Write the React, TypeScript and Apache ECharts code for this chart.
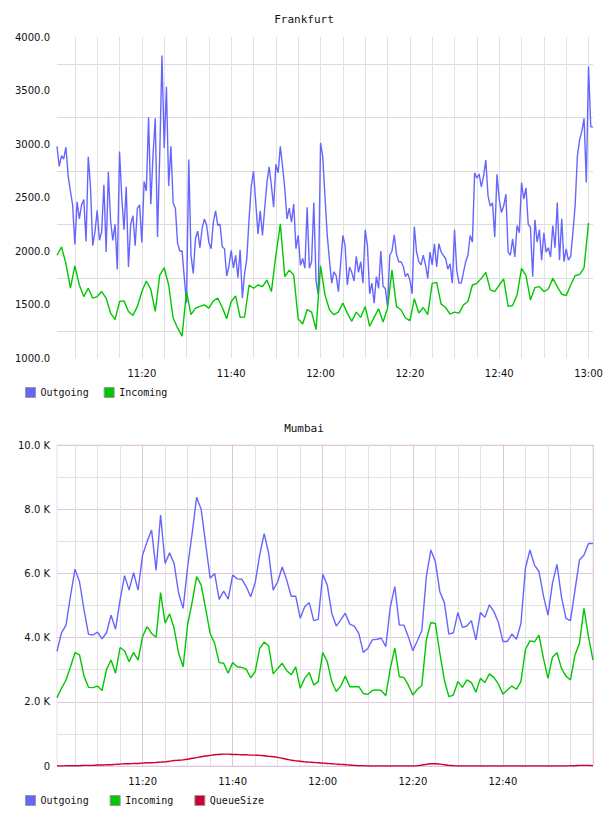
import React, { useEffect, useRef } from 'react';
import * as echarts from 'echarts';

// ---------- categories / tick labels ----------
const pad = (n: number) => String(n).padStart(2, '0');
const hhmmss = (t: number) => `${pad(Math.floor(t / 3600))}:${pad(Math.floor((t % 3600) / 60))}:${pad(t % 60)}`;
const hhmm = (t: number) => `${pad(Math.floor(t / 3600))}:${pad(Math.floor((t % 3600) / 60))}`;

// Frankfurt: 30 s samples 11:01:00 .. 13:01:00
const frankfurtTimes: string[] = [];
for (let s = 0; s <= 240; s++) frankfurtTimes.push(hhmmss(11 * 3600 + 60 + s * 30));
// Frankfurt incoming: 1 min samples 11:01 .. 13:01
const frankfurtMinutes: string[] = [];
for (let m = 0; m <= 120; m++) frankfurtMinutes.push(hhmm(11 * 3600 + 60 + m * 60));
// Mumbai: 1 min samples 11:01 .. 13:00
const mumbaiMinutes: string[] = [];
for (let m = 0; m < 120; m++) mumbaiMinutes.push(hhmm(11 * 3600 + 60 + m * 60));

const frankfurtTickLabels = ['11:20', '11:40', '12:00', '12:20', '12:40', '13:00'];
const mumbaiTickLabels = ['11:20', '11:40', '12:00', '12:20', '12:40'];

// ---------- series values ----------
const frankfurtOutgoing = [
  2978, 2790, 2890, 2860, 2970, 2700, 2560, 2430, 2060, 2460,
  2300, 2430, 2480, 2090, 2880, 2600, 2050, 2180, 2380, 2100,
  2180, 2620, 1990, 2740, 2280, 2100, 2250, 1830, 2930, 2500,
  2200, 2600, 1850, 2250, 2330, 2050, 2400, 2430, 2080, 2650,
  2560, 3250, 2438, 2900, 3241, 2130, 2900, 3827, 2963, 3534,
  2608, 2978, 2450, 2400, 2070, 2000, 2000, 1750, 1513, 2855,
  1960, 1790, 2115, 2185, 2030, 2215, 2300, 2240, 2080, 2022,
  2270, 2375, 2240, 2250, 2040, 2020, 1766, 1860, 2007, 1840,
  1960, 1750, 2010, 1560, 1790, 1930, 2300, 2608, 2747, 2450,
  2160, 2375, 2145, 2400, 2639, 2787, 2610, 2410, 2810, 2730,
  2978, 2790, 2580, 2300, 2400, 2270, 2440, 2022, 2145, 1867,
  1930, 1840, 2408, 1840, 1900, 2454, 1720, 1590, 3010, 2880,
  2500, 2150, 1914, 1700, 1806, 1770, 1620, 1880, 2145, 2050,
  1682, 1850, 1800, 1720, 1950, 1800, 1900, 1700, 2199, 2050,
  1600, 1700, 1513, 1760, 1650, 2000, 1670, 1650, 1482, 1960,
  2000, 2150, 1970, 1900, 1900, 1860, 1760, 1790, 1730, 1600,
  2229, 1990, 1900, 1870, 1960, 1870, 1744, 1990, 1870, 2068,
  1850, 2068, 1990, 1960, 1930, 1830, 1880, 1700, 2199, 1820,
  1700, 1700, 1800, 1900, 1960, 2145, 2083, 2732, 2680, 2720,
  2600, 2700, 2850, 2515, 2420, 2450, 2130, 2716, 2485, 2360,
  2420, 2531, 1990, 1960, 2114, 1944, 2238, 2170, 2640, 2485,
  2590, 2250, 2220, 1760, 2292, 2083, 2200, 1914, 2170, 1990,
  2030, 1944, 2238, 2030, 2454, 1914, 2300, 1900, 2020, 1914,
  1950, 2170, 2423, 2886, 3040, 3120, 3240, 2640, 3725, 3160,
  3160,
];

const frankfurtIncoming: (number | null)[] = [
  1960, 2037, 1883, 1652, 1861, 1682, 1574, 1652, 1559, 1574,
  1621, 1559, 1420, 1358, 1528, 1534, 1435, 1398, 1482, 1621,
  1720, 1642, 1435, 1775, 1843, 1682, 1374, 1281, 1204, 1621,
  1405, 1466, 1482, 1497, 1466, 1534, 1559, 1472, 1368, 1528,
  1580, 1380, 1383, 1682, 1652, 1682, 1667, 1729, 1621, 1960,
  2253, 1760, 1821, 1775, 1364, 1318, 1451, 1429, 1266, 1861,
  1590, 1451, 1405, 1429, 1513, 1420, 1343, 1429, 1380, 1482,
  1297, 1380, 1460, 1337, 1466, 1821, 1482, 1451, 1374, 1349,
  1553, 1420, 1472, 1405, 1698, 1707, 1503, 1472, 1411, 1429,
  1420, 1497, 1528, 1682, 1698, 1744, 1800, 1636, 1621, 1682,
  1738, 1482, 1491, 1590, 1837, 1769, 1543, 1658, 1667, 1621,
  1645, 1744, 1667, 1596, 1583, 1682, 1769, 1781, 1843, 2263,
  null,
];

// Mumbai values in thousands
const mumbaiOutgoing = [
  3.57, 4.15, 4.39, 5.3, 6.13, 5.74, 4.86, 4.10, 4.08, 4.17,
  3.96, 4.15, 4.70, 4.26, 5.17, 5.93, 5.48, 6.02, 5.48, 6.57,
  6.99, 7.35, 6.10, 7.82, 6.31, 6.64, 6.31, 5.38, 4.91, 6.20,
  7.24, 8.37, 8.00, 6.93, 5.85, 6.00, 5.19, 5.45, 5.20, 5.95,
  5.83, 5.82, 5.59, 5.27, 5.71, 6.57, 7.24, 6.62, 5.48, 5.74,
  6.20, 5.79, 5.29, 5.29, 4.6, 4.96, 5.09, 4.53, 4.57, 5.97,
  5.64, 4.76, 4.36, 4.55, 4.76, 4.42, 4.36, 4.13, 3.54, 3.66,
  3.93, 3.95, 3.98, 3.72, 4.96, 5.59, 4.39, 4.39, 4.03, 3.59,
  3.90, 4.22, 5.90, 6.73, 6.37, 5.43, 5.09, 4.11, 4.15, 4.78,
  4.32, 4.36, 4.53, 3.93, 4.78, 4.63, 5.02, 4.81, 4.47, 3.88,
  3.88, 4.11, 3.95, 4.44, 6.16, 6.73, 6.26, 6.06, 5.3, 4.70,
  5.69, 6.28, 5.27, 4.60, 4.53, 5.48, 6.42, 6.57, 6.93, 6.93,
];

const mumbaiIncoming = [
  2.13, 2.42, 2.68, 3.09, 3.53, 3.46, 2.80, 2.45, 2.44, 2.49,
  2.35, 3.01, 3.30, 2.89, 3.69, 3.59, 3.25, 3.54, 3.30, 4.03,
  4.34, 4.13, 4.01, 5.40, 4.45, 4.74, 4.29, 3.51, 3.09, 4.40,
  5.10, 5.90, 5.64, 4.90, 4.13, 3.82, 3.22, 3.20, 2.89, 3.22,
  3.09, 3.07, 3.02, 2.75, 2.94, 3.66, 3.86, 3.74, 2.87, 3.04,
  3.20, 2.97, 2.84, 3.09, 2.42, 2.73, 2.91, 2.52, 2.63, 3.53,
  3.25, 2.63, 2.32, 2.49, 2.80, 2.47, 2.47, 2.47, 2.26, 2.23,
  2.35, 2.37, 2.35, 2.19, 3.04, 3.67, 2.78, 2.76, 2.52, 2.21,
  2.39, 2.51, 3.93, 4.47, 4.44, 3.51, 2.68, 2.16, 2.21, 2.63,
  2.45, 2.68, 2.60, 2.30, 2.73, 2.60, 2.87, 2.76, 2.55, 2.24,
  2.37, 2.49, 2.39, 2.63, 3.63, 3.90, 3.87, 4.08, 3.35, 2.73,
  3.39, 3.53, 3.04, 2.80, 2.68, 3.46, 3.82, 4.91, 4.03, 3.30,
];

const mumbaiQueueSize = [
  0.00, 0.00, 0.01, 0.01, 0.01, 0.01, 0.02, 0.02, 0.02, 0.03,
  0.03, 0.04, 0.04, 0.05, 0.06, 0.07, 0.07, 0.08, 0.08, 0.09,
  0.10, 0.10, 0.11, 0.12, 0.13, 0.15, 0.17, 0.18, 0.19, 0.21,
  0.24, 0.26, 0.29, 0.31, 0.33, 0.35, 0.36, 0.37, 0.37, 0.36,
  0.36, 0.35, 0.35, 0.34, 0.34, 0.33, 0.32, 0.30, 0.29, 0.27,
  0.24, 0.21, 0.18, 0.16, 0.15, 0.13, 0.12, 0.11, 0.10, 0.09,
  0.08, 0.07, 0.06, 0.05, 0.04, 0.03, 0.02, 0.01, 0.01, 0.00,
  0.00, 0.00, 0.00, 0.00, 0.00, 0.00, 0.00, 0.00, 0.00, 0.00,
  0.01, 0.03, 0.05, 0.07, 0.07, 0.06, 0.04, 0.02, 0.01, 0.00,
  0.00, 0.00, 0.00, 0.00, 0.00, 0.00, 0.00, 0.00, 0.00, 0.00,
  0.00, 0.00, 0.00, 0.00, 0.00, 0.00, 0.00, 0.00, 0.00, 0.00,
  0.00, 0.00, 0.00, 0.00, 0.01, 0.01, 0.02, 0.02, 0.02, 0.01,
];

// ---------- styling ----------
const BLUE = '#6666ff';
const GREEN = '#00c800';
const RED = '#cc0033';
const GRAY_GRID = '#e2e2e2';
const PINK_GRID = '#dfc6df';
const LABEL_FONT = { fontFamily: 'DejaVu Sans', fontSize: 10, color: '#111' };
const MONO = 'DejaVu Sans Mono';

const minuteOf = (v: string) => parseInt(v.slice(3, 5), 10);

export default function App() {
  const ref = useRef<HTMLDivElement>(null);

  useEffect(() => {
    if (!ref.current) return;
    const chart = echarts.init(ref.current, undefined, { renderer: 'svg' });

    const option: any = {
      animation: false,
      backgroundColor: '#ffffff',
      title: [
        {
          text: 'Frankfurt', left: 'center', top: 14, padding: 0,
          textStyle: { fontFamily: MONO, fontSize: 11, fontWeight: 'normal', color: '#111' },
        },
        {
          text: 'Mumbai', left: 'center', top: 423, padding: 0,
          textStyle: { fontFamily: MONO, fontSize: 11, fontWeight: 'normal', color: '#111' },
        },
      ],
      legend: [
        {
          left: 25, top: 387, padding: 0, itemGap: 15, itemWidth: 10, itemHeight: 10,
          icon: 'rect', data: ['Outgoing', 'Incoming'],
          itemStyle: { borderColor: '#999', borderWidth: 1 },
          textStyle: { fontFamily: MONO, fontSize: 10, color: '#111' },
          selectedMode: false,
        },
        {
          left: 25, top: 795, padding: 0, itemGap: 21, itemWidth: 10, itemHeight: 10,
          icon: 'rect', data: ['Outgoing', 'Incoming', 'QueueSize'],
          itemStyle: { borderColor: '#999', borderWidth: 1 },
          textStyle: { fontFamily: MONO, fontSize: 10, color: '#111' },
          selectedMode: false,
        },
      ],
      grid: [
        { left: 57, right: 15, top: 37, height: 321, containLabel: false },
        { left: 57, right: 15, top: 445, height: 321, containLabel: false, show: true, borderColor: '#ecdcec', borderWidth: 1 },
      ],
      xAxis: [
        {
          gridIndex: 0, type: 'category', data: frankfurtTimes, boundaryGap: false,
          axisLine: { show: false }, axisTick: { show: false },
          axisLabel: {
            ...LABEL_FONT, margin: 10,
            interval: (_i: number, v: string) => v.endsWith(':00') && frankfurtTickLabels.includes(v.slice(0, 5)),
            formatter: (v: string) => v.slice(0, 5),
          },
          splitLine: {
            show: true,
            interval: (_i: number, v: string) => v.endsWith(':00') && minuteOf(v) % 5 === 0,
            lineStyle: { color: GRAY_GRID, width: 1 },
          },
        },
        {
          gridIndex: 0, type: 'category', data: frankfurtMinutes, boundaryGap: false, show: false,
        },
        {
          gridIndex: 1, type: 'category', data: mumbaiMinutes, boundaryGap: false,
          axisLine: { show: false }, axisTick: { show: false },
          axisLabel: {
            ...LABEL_FONT, margin: 10,
            interval: (_i: number, v: string) => mumbaiTickLabels.includes(v),
          },
          splitLine: {
            show: true,
            interval: (_i: number, v: string) => minuteOf(v) % 20 === 0,
            lineStyle: { color: PINK_GRID, width: 1 },
          },
        },
        {
          gridIndex: 1, type: 'category', data: mumbaiMinutes, boundaryGap: false, position: 'top',
          axisLine: { show: false }, axisTick: { show: false }, axisLabel: { show: false },
          splitLine: {
            show: true,
            interval: (_i: number, v: string) => minuteOf(v) % 5 === 0 && minuteOf(v) % 20 !== 0,
            lineStyle: { color: GRAY_GRID, width: 1 },
          },
        },
      ],
      yAxis: [
        {
          gridIndex: 0, type: 'value', min: 1000, max: 4000, interval: 500,
          axisLine: { show: false }, axisTick: { show: false },
          axisLabel: { ...LABEL_FONT, margin: 7, formatter: (v: number) => v.toFixed(1) },
          splitLine: { show: false },
          minorTick: { show: false, splitNumber: 2 },
          minorSplitLine: { show: true, lineStyle: { color: '#dcdcdc', width: 1 } },
        },
        {
          gridIndex: 1, type: 'value', min: 0, max: 10, interval: 2,
          axisLine: { show: false }, axisTick: { show: false },
          axisLabel: { ...LABEL_FONT, margin: 7, formatter: (v: number) => (v === 0 ? '0' : v.toFixed(1) + ' K') },
          splitLine: { show: true, lineStyle: { color: PINK_GRID, width: 1 } },
          minorTick: { show: false, splitNumber: 2 },
          minorSplitLine: { show: true, lineStyle: { color: GRAY_GRID, width: 1 } },
        },
      ],
      series: [
        {
          name: 'Outgoing', type: 'line', xAxisIndex: 0, yAxisIndex: 0, data: frankfurtOutgoing,
          showSymbol: false, symbol: 'none', color: BLUE, lineStyle: { color: BLUE, width: 1.4 },
        },
        {
          name: 'Incoming', type: 'line', xAxisIndex: 1, yAxisIndex: 0, data: frankfurtIncoming,
          showSymbol: false, symbol: 'none', color: GREEN, lineStyle: { color: GREEN, width: 1.4 },
        },
        {
          name: 'Outgoing', type: 'line', xAxisIndex: 2, yAxisIndex: 1, data: mumbaiOutgoing,
          showSymbol: false, symbol: 'none', color: BLUE, lineStyle: { color: BLUE, width: 1.4 },
        },
        {
          name: 'Incoming', type: 'line', xAxisIndex: 2, yAxisIndex: 1, data: mumbaiIncoming,
          showSymbol: false, symbol: 'none', color: GREEN, lineStyle: { color: GREEN, width: 1.4 },
        },
        {
          name: 'QueueSize', type: 'line', xAxisIndex: 2, yAxisIndex: 1, data: mumbaiQueueSize,
          showSymbol: false, symbol: 'none', smooth: true, color: RED, lineStyle: { color: RED, width: 1.4 },
        },
      ],
    };

    chart.setOption(option);
    return () => chart.dispose();
  }, []);

  return (
    <div
      ref={ref}
      style={{ position: 'absolute', left: 0, top: 0, width: 608, height: 816, background: '#fff' }}
    />
  );
}
